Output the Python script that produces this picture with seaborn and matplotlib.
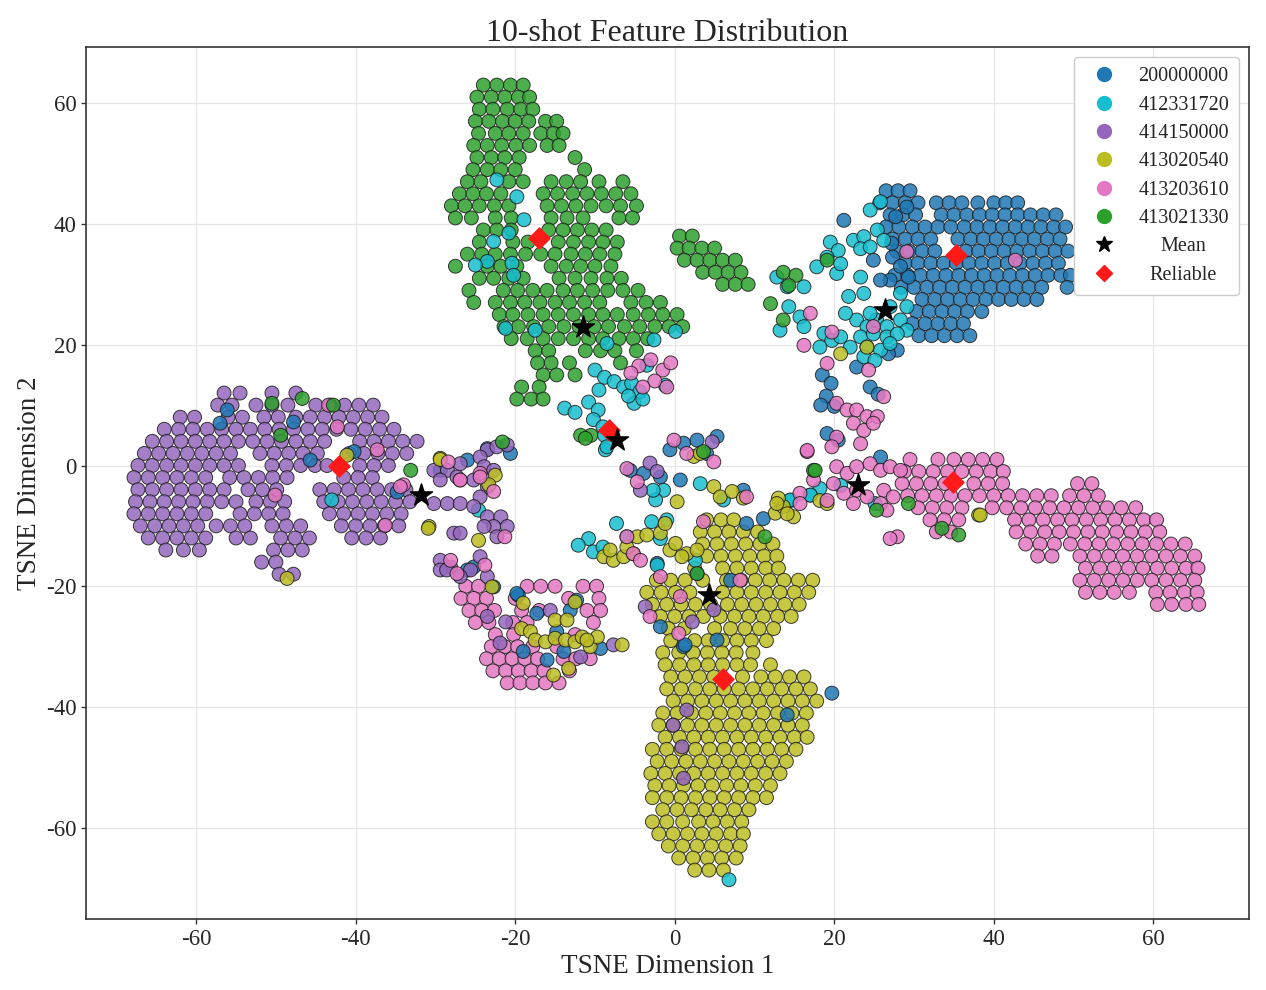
import numpy as np
import pandas as pd
import matplotlib
matplotlib.use('Agg')
import matplotlib.pyplot as plt
import seaborn as sns
from matplotlib.lines import Line2D

# ── DATA (t-SNE coordinates) ────────────────────────────────────────────────
CLASSES = ["200000000", "412331720", "414150000", "413020540", "413203610", "413021330"]
COLORS  = ["#1f77b4", "#17becf", "#9467bd", "#bcbd22", "#e377c2", "#2ca02c"]

# dense parts of each cluster: (y, [x, x, ...])
blue_rows = [
    (45.5, [26.5, 28, 29.5]),
    (43.5, [25.7, 27.3, 28.9, 30.5, 32.8, 34.4, 36, 38, 40, 41.5, 43]),
    (41.5, [27, 28.6, 30.2, 33.4, 35, 36.6, 38.2, 39.8, 41.4, 43, 44.6, 46.2, 47.8]),
    (39.5, [26.5, 28.1, 29.8, 31.4, 33, 34.6, 36.3, 37.9, 39.5, 41.1, 42.7, 44.3, 45.9, 47.5, 49]),
    (37.5, [27.3, 28.9, 30.5, 32.1, 35.5, 37.1, 38.7, 40.3, 41.9, 43.5, 45.1, 46.7, 48.3]),
    (35.5, [27.8, 29.4, 31, 32.6, 36.5, 38.1, 39.7, 41.3, 42.9, 44.5, 46.1, 47.7, 49.3]),
    (33.5, [28.9, 30.5, 32.1, 33.7, 35.3, 36.9, 38.5, 40.1, 41.7, 43.3, 44.9, 46.5, 48.1]),
    (31.5, [27.6, 29.2, 30.8, 32.4, 34, 35.6, 37.2, 38.8, 40.4, 42, 43.6, 45.2, 46.8, 48.4, 49.6]),
    (29.5, [28.4, 30, 31.6, 33.2, 34.8, 36.4, 38, 39.6, 41.2, 42.8, 44.4, 46, 49.2]),
    (27.5, [31, 32.6, 34.2, 35.8, 37.4, 39, 40.6, 42.2, 43.8, 45.4]),
    (25.5, [30.3, 31.9, 33.5, 35.1, 36.7, 38.5]),
    (23.5, [29.8, 31.4, 33, 34.6, 36.2]),
    (21.5, [30.6, 32.2, 33.8, 35.4, 37]),
]
purple_rows = [
    (12, [-56.5, -54.5, -50.5, -47.5]),
    (10, [-57.3, -55.5, -52.5, -50.5, -48.5, -45, -43.2, -41.4, -39.6, -37.8]),
    (8, [-62, -60.2, -56, -54.2, -51.5, -49.7, -47.5, -45.7, -43.9, -42.1, -40.3, -38.5, -36.7]),
    (6, [-64, -62.2, -60.4, -58.6, -56.8, -55, -53.2, -51.4, -49.6, -47.8, -46, -44.2, -42.4, -40.6, -38.8, -37, -35.2]),
    (4, [-65.5, -63.7, -61.9, -60.1, -58.3, -56.5, -54.7, -52.9, -51.1, -49.3, -47.5, -45.7, -43.9, -39.5, -37.7, -35.9, -34.1, -32.3]),
    (2, [-66.5, -64.7, -62.9, -61.1, -59.3, -57.5, -55.7, -52, -50.2, -48.4, -46.6, -44.8, -40.8, -39, -37.2, -35.4, -33.6]),
    (0, [-67.3, -65.5, -63.7, -61.9, -60.1, -58.3, -56.5, -54.7, -50.5, -48.7, -46.9, -45.1, -43.6, -39.5, -37.7, -35.9]),
    (-2, [-67.8, -66, -64.2, -62.4, -60.6, -58.8, -55.8, -54, -52.2, -50.4, -48.6, -41.5, -39.7, -37.9]),
    (-4, [-67.3, -65.5, -63.7, -61.9, -60.1, -58.3, -56.5, -53.5, -51.7, -49.9, -44.5, -42.7, -40.9, -39.1, -37.3, -35.5, -33.7]),
    (-6, [-67.6, -65.8, -64, -62.2, -60.4, -58.6, -56.8, -55, -52.5, -50.7, -48.9, -44, -42.2, -40.4, -38.6, -36.8, -35, -33.2]),
    (-8, [-67.8, -66, -64.2, -62.4, -60.6, -58.8, -54.5, -52.7, -50.9, -49.1, -43.3, -41.5, -39.7, -37.9, -36.1, -34.3]),
    (-10, [-67, -65.2, -63.4, -61.6, -59.8, -57.5, -55.7, -53.9, -50.5, -48.7, -46.9, -41.8, -40, -38.2, -36.4, -34.6]),
    (-12, [-66, -64.2, -62.4, -60.6, -58.8, -55, -53.2, -49.4, -47.6, -45.8, -40.5, -38.7, -36.9]),
    (-14, [-63.8, -61.6, -59.6, -50.3, -48.5, -46.7]),
    (-16, [-51.8, -50]),
    (-18, [-49.6, -47.8]),
]
olive_rows = [
    (-9, [4, 5.8, 7.4]),
    (-11, [3.2, 5, 6.8, 8.6, 10.4]),
    (-13, [3.5, 5.3, 7.1, 8.9, 10.7, 12.3]),
    (-15, [4, 5.8, 7.6, 9.4, 11.2, 12.8]),
    (-17, [2.5, 6, 7.8, 9.6, 11.4, 13]),
    (-19, [-2.3, -0.5, 1.3, 3.5, 6.5, 8.3, 10.1, 11.9, 13.7, 15.5, 17.3]),
    (-21, [-3.5, -1.7, 0.1, 1.9, 6, 7.8, 9.6, 11.4, 13.2, 15, 16.8]),
    (-23, [-2.8, -1, 0.8, 2.6, 4.5, 6.6, 8.4, 10.2, 12, 13.8, 15.6]),
    (-25, [-1.8, 0, 1.8, 3.6, 5.7, 7.5, 9.3, 11.1, 12.9, 14.6]),
    (-27, [-0.8, 1.2, 5, 7, 8.8, 10.6, 12.4]),
    (-29, [-0.5, 2.5, 4.2, 6, 7.8, 9.6, 11.5]),
    (-31, [-1.5, 0.5, 2.3, 4.1, 5.9, 7.7, 9.8]),
    (-33, [-1.2, 0.6, 2.4, 4.2, 6, 7.8, 9.5, 12]),
    (-35, [-0.5, 1.3, 3.1, 4.9, 8.5, 10.8, 12.6, 14.4, 16.2]),
    (-37, [-1, 0.8, 2.6, 4.4, 6.2, 8, 9.8, 11.6, 13.4, 15.2, 17]),
    (-39, [-0.2, 1.6, 3.4, 5.2, 7, 8.8, 10.6, 12.4, 14.2, 16, 17.8]),
    (-41, [-1.5, 0.3, 2.1, 3.9, 5.7, 7.5, 9.3, 11.1, 12.9, 14.7, 16.5]),
    (-43, [-2, -0.2, 1.6, 3.4, 5.2, 7, 8.8, 10.6, 12.4, 14.2, 16]),
    (-45, [-1.2, 0.6, 2.4, 4.2, 6, 7.8, 9.6, 11.4, 13.2, 15, 16.6]),
    (-47, [-2.8, -1, 0.8, 2.6, 4.4, 6.2, 8, 9.8, 11.6, 13.4, 15.2]),
    (-49, [-2.2, -0.4, 1.4, 3.2, 5, 6.8, 8.6, 10.4, 12.2, 14]),
    (-51, [-3, -1.2, 0.6, 2.4, 4.2, 6, 7.8, 9.6, 11.4, 13.2]),
    (-53, [-2.5, -0.7, 1.1, 2.9, 4.7, 6.5, 8.3, 10.1, 12]),
    (-55, [-2.8, -1, 0.8, 2.6, 4.4, 6.2, 8, 9.8, 11.5]),
    (-57, [-1.5, 0.3, 2.1, 3.9, 5.7, 7.5, 9.3]),
    (-59, [-2.8, -1, 1, 3, 4.8, 6.6, 8.4]),
    (-61, [-2, -0.2, 1.6, 3.4, 5.2, 7, 8.6]),
    (-63, [-0.8, 1, 2.8, 4.6, 6.4, 8.2]),
    (-65, [0.5, 2.3, 4.1, 5.9, 7.7]),
    (-67, [2.5, 4.3, 6.1]),
]
pink_rows = [
    (1, [29.5, 33, 35, 36.8, 38.6, 40.4]),
    (-1, [28.8, 30.6, 32.4, 34.2, 36, 37.8, 39.6, 41.2]),
    (-3, [28.5, 30.3, 32.1, 33.9, 37.5, 39.3, 41.1, 50.5, 52.3]),
    (-5, [29.2, 31, 32.8, 34.6, 36.4, 38.2, 40, 41.8, 43.6, 45.4, 47.2, 49.5, 51.3, 53.1]),
    (-7, [30.5, 32.3, 34.1, 36, 39.8, 41.6, 43.4, 45.2, 47, 48.8, 50.6, 52.4, 54.2, 56, 57.8]),
    (-9, [32, 33.8, 35.6, 42.6, 44.4, 46.2, 48, 49.8, 51.6, 53.4, 55.2, 57, 58.8, 60.4]),
    (-11, [32.8, 34.6, 42.8, 44.6, 46.4, 48.2, 50, 51.8, 53.6, 55.4, 57.2, 59, 60.8]),
    (-13, [44, 45.8, 47.6, 49.6, 51.4, 53.2, 55, 56.8, 58.6, 60.4, 62.2, 64]),
    (-15, [45.5, 47.3, 50.8, 52.6, 54.4, 56.2, 58, 59.8, 61.6, 63.4, 65.2]),
    (-17, [51.5, 53.3, 55.1, 56.9, 58.7, 60.5, 62.3, 64.1, 65.6]),
    (-19, [50.8, 52.6, 54.4, 56.2, 58, 59.8, 61.6, 63.4, 65.2]),
    (-21, [51.5, 53.3, 55.1, 57, 60.3, 62.1, 63.9, 65.5]),
    (-23, [60.5, 62.3, 64.1, 65.7]),
    # lower-left pink group
    (-20, [-26.2, -24.6, -18.5, -16.8, -15, -11.5, -9.8]),
    (-22, [-26.8, -25.2, -23.6, -20, -13.3, -9.5]),
    (-24, [-25.8, -24.2, -22.6, -19.2, -17, -11, -9.3]),
    (-26, [-25, -23.3, -20.3, -18.5, -10.2]),
    (-28, [-22.5, -20.2, -12.5]),
    (-30, [-23, -21.3, -19.7, -17.8, -14.8]),
    (-32, [-23.6, -22, -20.4, -18.8, -17.2, -14, -12.4, -10.6]),
    (-34, [-22.8, -21.2, -19.6, -18, -16.4, -13.2]),
    (-36, [-21, -19.4, -17.8, -16.2, -14.5]),
]
green_rows = [
    (63, [-24, -22.3, -20.6, -19]),
    (61, [-24.8, -23, -21.3, -19.6, -18.2]),
    (59, [-24.5, -22.8, -21, -19.3, -17.8]),
    (57, [-25, -23.3, -21.6, -20, -18.3, -16.2, -14.8]),
    (55, [-24.6, -22.5, -20.8, -19, -16.8, -15.2, -14]),
    (53, [-25.2, -23.5, -21.7, -19.9, -18.2, -16, -14.5]),
    (51, [-24.8, -23, -21.3, -19.5, -12.5]),
    (49, [-25.3, -23.5, -21.8, -20, -11.3]),
    (47, [-26, -24.3, -20.8, -19, -15.5, -13.6, -11.8, -9.5, -6.5]),
    (45, [-27, -25.3, -23.6, -21.8, -16.5, -14.7, -12.8, -11, -9.2, -7.4, -5.5]),
    (43, [-28, -26.3, -24.5, -22.6, -20.8, -16, -14.2, -12.4, -10.5, -8.6, -6.8, -4.8]),
    (41, [-27.5, -25.5, -22.5, -20.5, -15.5, -13.5, -11.5, -7, -5.3]),
    (39, [-24, -22.3, -20.5, -15.8, -14, -12.2, -10.4, -8.6]),
    (37, [-24.5, -20.3, -18.4, -14.6, -12.7, -10.8, -9, -7.2]),
    (35, [-26, -24.2, -22.5, -20.6, -18.7, -16.8, -15, -13, -11.2, -9.4, -7.5]),
    (33, [-27.5, -23.5, -21.8, -19.8, -15.5, -13.6, -11.8, -10, -8]),
    (31, [-24.5, -22.7, -20.8, -19, -14.5, -12.5, -10.5, -8.5, -6.7]),
    (29, [-25.8, -21.5, -19.7, -17.8, -16, -14, -12.2, -10.3, -8.4, -6.5, -4.6]),
    (27, [-25.2, -22.5, -20.6, -18.8, -16.9, -15, -13.2, -11.3, -9.4, -5.5, -3.6, -1.8]),
    (25, [-22, -20.3, -18.4, -16.5, -14.6, -12.7, -10.8, -9, -7.2, -5.2, -3.3, -1.5, 0.3]),
    (23, [-21.4, -19.6, -17.7, -15.8, -13.9, -12, -10.1, -8.3, -6.3, -4.4, -2.5, -0.7, 1]),
    (21, [-20.5, -18.5, -16.5, -14.6, -12.7, -10.8, -9, -7, -5.2, -3.4]),
    (19, [-17.5, -15.8, -11.2, -9.3, -7.5, -4.8]),
    (17, [-17.2, -15.5, -13.2, -6.8]),
    (15, [-16.5, -14.8, -12.5]),
    (13, [-17, -19.2]),
    (11, [-19.8, -18, -16.5]),
    (5, [-10.5, -11.8]),
    # small group right of the main green cluster
    (38, [0.6, 2.2]),
    (36, [0.3, 1.8, 3.4, 5]),
    (34, [1.2, 2.8, 4.4, 6, 7.6]),
    (32, [3.5, 5.1, 6.7, 8.3]),
    (30, [6, 7.6, 9.2]),
]
cyan_rows = []

# scattered points of each class: (x, y)
blue_extra = [
    (21.2, 40.6), (27.2, 36.8), (24.9, 34), (27.7, 41.2), (29.1, 42.8), (29.3, 31.2), (27, 30.7),
    (25.8, 30.7), (27.9, 19.1), (26.8, 18.5), (22.8, 16.3), (27.3, 34.5), (28.3, 33), (18.5, 15),
    (19.6, 13.6), (19, 11.5), (20, 9.8), (18.3, 10), (24.5, 13), (25.5, 11.8), (19.1, 5.3),
    (20.5, 4.2), (25.8, 1.4), (11.1, -8.8),
    (-0.6, 2.6), (1.1, 3.7), (2.8, 4.2), (5.3, 4.8), (4, 2), (-3.9, -1.3), (-1.8, -1.9), (0.7, -2.4),
    (-5.6, -0.8), (8.6, -4.1), (9, -9.6), (-2.2, -16.2), (-1.8, -26.7), (1.1, -30), (5.3, -28.9),
    (2.8, -17.9), (7, -19),
    (-25.2, -16.8), (-22.7, -20.1), (-19.6, -21.5), (-17.3, -24.5), (-13.1, -24), (-12.3, -22.3),
    (-14.8, -27.5), (-19, -30.8), (-16, -32.2), (-13.9, -30.8), (-9.3, -30.3),
    (-56.1, 9.2), (-57, 7), (-47.8, 7.2), (-45.7, 0.9), (-40.2, 2.3), (-34.8, -4.4), (-26, 0.9),
    (-23.5, 2.8), (-20.6, 2), (-29.4, -0.8), (-26, -17.3), (-19.8, -21.2),
    (1.3, -29.7), (19.7, -37.7), (14.1, -41.3),
]
cyan_extra = [
    (-22.3, 47.3), (-19.8, 44.5), (-18.9, 40.7), (-20.8, 38.5), (-22.7, 37.1), (-23.5, 33.8),
    (-25, 33.2), (-20.4, 33.5), (-20.2, 31.5), (-21.2, 22.7), (-17.5, 22.4), (-8.5, 20.2),
    (-2.6, 20.8), (0.1, 22.2), (-3.5, 16.6), (-10, 15.8), (-8.8, 14.6), (-7.6, 13.9), (-6.4, 13),
    (-5.4, 13.6), (-4.4, 12.2), (-5.1, 10.3), (-4, 11), (-1.2, 13.3), (-13.8, 9.5), (-12.5, 8.8),
    (-10.8, 10.5), (-9.6, 9.2), (-10.2, 7.6), (-9, 6.4), (-8.8, 5), (-8.7, 2.6), (-5.8, 11.5),
    (-9.5, 12.5),
    (24.5, 42.3), (25.8, 43.7), (19.5, 37), (20.5, 35.6), (19.1, 34.5), (22.4, 37.3), (23.7, 37.9),
    (23.3, 35.9), (24.5, 36.2), (25.4, 39), (26.2, 37.3), (12.8, 31.2), (14.1, 29.6), (16.2, 29.6),
    (17.8, 32.9), (20.3, 31.8), (20.8, 33.4), (14.3, 26.3), (15.7, 24.6), (13.2, 22.4), (16.2, 23),
    (18.7, 21.9), (19.7, 20.7), (18.2, 19.6), (20.8, 21.3), (23.3, 31.2), (23.7, 28.5), (28.3, 28.5),
    (29.1, 26.3), (27, 26.3), (22.8, 24.1), (24.1, 23), (25.3, 24.1), (26.6, 23), (28.3, 24.1),
    (29.1, 22.4), (23.3, 21.3), (24.9, 21.8), (26.6, 21.3), (27.9, 21.8), (22, 19.6), (24.1, 19.6),
    (25.8, 19.1), (23.7, 18), (25.1, 17.4), (21.4, 25.2), (24.5, 25.2), (27, 20.2), (21.8, 28),
    (18.2, -3.8), (17, -4.9), (20.8, -3.3), (25.1, -6.3), (14.5, -5.8),
    (-8.5, 3.1), (-1.4, -4.1), (-2.4, -5.7), (3.2, -3), (6.1, -5.7), (-7.3, -9.6), (-6, -11.8),
    (-10.8, -12.1), (-12.1, -13.2), (-10.2, -14.3), (-9, -13.5), (-2.9, -9.3), (-1, -9),
    (-1.8, -12.1), (2.6, -15.7), (-2.2, -16.5), (17, -4.9), (14.5, -5.7), (-2.7, -4.1),
    (-43, -5.7), (-24.6, -7.4), (6.8, -68.6),
]
purple_extra = [
    (-23.5, 2.6), (-22.3, 3.1), (-21, 3.4), (-24.4, 1.4), (-30.2, -0.8), (-28.5, -0.8),
    (-27.3, -1.9), (-29.4, -2.4), (-26.9, 0.3), (-25.2, -2.4), (-23.9, -0.2), (-22.7, -0.8),
    (-23.5, -3.5), (-24.4, -5.2), (-30.2, -6.3), (-28.5, -6.3), (-26.9, -6.3), (-25.2, -6.8),
    (-23.5, -8.5), (-21.8, -8.5), (-21, -10.1), (-22.7, -10.1), (-23.9, -10.1), (-27.7, -11.2),
    (-26.9, -11.2), (-22.3, -11.8),
    (-29.4, -15.7), (-28.1, -16.8), (-29.4, -17.3), (-25.6, -17.3), (-24.4, -15.1), (-23.5, -18.4),
    (-26.9, -18.4), (-28.6, -17.3), (-23.5, -25), (-21.2, -25.9), (-15.6, -24), (-11.8, -31.7),
    (-21.9, -29.4), (-7.7, -29.7),
    (-3.1, 0.4), (-2.2, -1), (4.7, 3.9), (-4.3, -4.1), (4.9, -23.9), (2.2, -25.9), (-3.7, -23.4),
    (1.5, -40.5), (-0.2, -43), (0.9, -46.6), (1.1, -51.8),
]
olive_extra = [
    (-8.9, -15.1), (-7.7, -15.7), (-6.4, -15.1), (-5.2, -14.6), (-8.1, -14), (-6, -13.5),
    (-4.7, -11.8), (-3.5, -11.5), (0.3, -6), (-0.6, -14), (1.5, -14.6), (2.8, -14), (4.9, -3.5),
    (5.7, -5.2), (7.2, -4.3), (2.4, 1.5), (3.2, 2), (8.6, -5.4), (-1.8, -11.2), (-1.2, -9.6),
    (0.1, -12.9), (0.9, -15.1), (12.6, -7.9), (13.6, -6.8), (14.9, -8.5), (13, -5.4),
    (12.8, -6.3), (14.1, -8), (18.2, -5.8), (19.1, -6.3), (24.1, 19.6), (20.8, 18.5), (38.1, -8.2),
    (38.3, -8.2),
    (-41.1, 1.7), (-29.4, 1.2), (-22.5, -1.6), (-23.3, -3.2), (-30.8, -10.1), (-24.6, -12.4),
    (-48.6, -18.7), (-22.9, -20.1), (-29.4, 1), (-30.9, -10.4),
    (-19, -22.8), (-12.5, -22.6), (-15, -25.6), (-13.5, -25.6), (-19.2, -27), (-18.1, -27.5),
    (-17.5, -28.9), (-16.2, -29.2), (-15, -28.6), (-13.7, -28.9), (-12.5, -29.2), (-11.6, -28.4),
    (-10.6, -30), (-9.7, -28.4), (-13.3, -33.6), (-15.2, -34.7), (-6.6, -29.7), (-11, -28.9),
]
pink_extra = [
    (29.1, 35.4), (42.7, 34), (24.9, 23), (19.7, 22.1), (16.2, 19.9), (17, 25.2), (24.3, 15.8),
    (19.1, 16.9), (26.2, 11.4), (20.3, 10.3), (21.6, 9.2), (22.8, 9.2), (24.1, 8.1), (25.4, 8.1),
    (22.4, 7), (23.7, 5.8), (24.9, 7), (20.3, 4.7), (19.7, 3.1), (16.6, 2.3), (23.3, 3.6),
    (20.3, -0.2), (21.6, -1.3), (22.8, -0.2), (24.5, 0.3), (25.8, -0.8), (27, -0.2), (28.3, -0.8),
    (19.9, -3), (21.2, -4.6), (22.8, -4.1), (24.1, -5.2), (26.2, -4.1), (27.4, -5.2), (25.8, -6.3),
    (22.4, -6.3), (26.6, -7.4), (17.4, -2.4), (15.7, -4.6), (27.9, -11.8), (27, -12.1), (19.1, -5.8),
    (-28.1, -15.7), (-27.3, -17.9), (-23.8, -16.5), (-24.4, -1.3), (-22.7, -4.3), (-26.9, -2.4),
    (-21.3, -11.8), (-34, -3.2), (-28.4, 0.6),
    (-43.4, 10), (-42.3, 6.4), (-37.3, 2.6), (-50.1, -4.9), (-34.4, -3.5), (-36.3, -9.9),
    (-24.4, -1.9), (-26.9, -2.4),
    (-6, -0.5), (-4.7, -2.7), (-0.1, 4.2), (1.5, 2), (4.9, 0.6), (3.6, -9.3), (-5.2, -14.6),
    (-4.3, -15.7), (-1.8, -18.4), (8.2, -19), (9, -5.2), (16.6, 2.5), (15.7, -6.3), (0.7, -21.7),
    (-3.1, -25), (0.5, -27.8), (-6, -11.8),
    (-4.5, 16.5), (-3, 17.5), (-1.5, 15.8), (-2.5, 14), (-4, 13), (-0.5, 17), (-5.5, 15.3), (-1, 13),
]
green_extra = [
    (13.6, 32), (15.2, 31.5), (14.3, 29.8), (12, 26.8), (13.6, 24.1), (19.1, 34), (17.4, -0.8),
    (25.3, -7.4), (29.3, -6.3), (33.5, -10.4), (35.6, -11.5),
    (-50.5, 10.3), (-46.7, 11.1), (-42.8, 10), (-49.4, 5), (-21.6, 3.9), (-33.1, -0.8),
    (-11.2, 4.5), (3.6, 2.3), (11.3, -11.8), (2.8, -17.9), (17.6, -0.8),
]

mean_x = [-11.5, -7.2, -31.8, 4.3, 23.0, 26.3]
mean_y = [22.9, 4.2, -4.9, -21.4, -3.2, 25.7]
reliable_x = [-17.0, -8.3, -42.1, 6.0, 34.9, 35.2]
reliable_y = [37.7, 5.9, -0.1, -35.3, -2.7, 34.9]

# ── BUILD TABLE ──────────────────────────────────────────────────────────────
rows_by_class  = [blue_rows, cyan_rows, purple_rows, olive_rows, pink_rows, green_rows]
extra_by_class = [blue_extra, cyan_extra, purple_extra, olive_extra, pink_extra, green_extra]

records = []
for cls, rows in zip(CLASSES, rows_by_class):
    for yv, xs in rows:
        for xv in xs:
            records.append((xv, yv, cls))
# scattered points drawn after the dense parts so they stay visible
for cls, pts in zip(CLASSES, extra_by_class):
    for xv, yv in pts:
        records.append((xv, yv, cls))
df = pd.DataFrame(records, columns=["x", "y", "label"])

# ── PLOT ─────────────────────────────────────────────────────────────────────
sns.set_style("whitegrid")
plt.rcParams['font.family'] = ['Liberation Serif', 'DejaVu Serif']
plt.rcParams['axes.unicode_minus'] = False

fig = plt.figure(figsize=(12.66, 9.9), dpi=100)
ax = fig.add_axes([0.068, 0.0717, 0.9186, 0.8808])

palette = dict(zip(CLASSES, COLORS))
sns.scatterplot(data=df, x="x", y="y", hue="label", hue_order=CLASSES, palette=palette,
                s=100, alpha=0.85, edgecolor="#1a1a1a", linewidth=0.7, legend=False, ax=ax)
ax.scatter(mean_x, mean_y, marker="*", s=280, c="black", zorder=5)
ax.scatter(reliable_x, reliable_y, marker="D", s=115, c="#ff1a1a", zorder=4)

ax.set_xlim(-73.8, 72.0)
ax.set_ylim(-75.1, 69.3)
ax.set_xticks([-60, -40, -20, 0, 20, 40, 60])
ax.set_yticks([-60, -40, -20, 0, 20, 40, 60])
ax.tick_params(labelsize=16.5, length=3.5, width=1, color="#333333", bottom=True, left=True)
ax.grid(True, color="#e6e6e6", linewidth=0.9)
for sp in ax.spines.values():
    sp.set_color("#333333")
    sp.set_linewidth(1.2)

ax.set_title("10-shot Feature Distribution", fontsize=23, pad=4)
ax.set_xlabel("TSNE Dimension 1", fontsize=19.5, labelpad=3)
ax.set_ylabel("TSNE Dimension 2", fontsize=19.5, labelpad=3)

handles = [Line2D([], [], marker="o", ls="", color=c, markersize=10) for c in COLORS]
handles.append(Line2D([], [], marker="*", ls="", color="black", markersize=12))
handles.append(Line2D([], [], marker="D", ls="", color="#ff1a1a", markersize=8))
leg = ax.legend(handles, CLASSES + ["Mean", "Reliable"], loc="upper right", fontsize=14.5,
                frameon=True, framealpha=1, edgecolor="#cccccc", handletextpad=0.7,
                labelspacing=0.46, borderpad=0.5)

# centre the two shorter labels under the class ids
fig.canvas.draw()
r = fig.canvas.get_renderer()
widths = [t.get_window_extent(r).width for t in leg.get_texts()]
wmax = max(widths)
for t, w in zip(leg.get_texts(), widths):
    t.set_x((wmax - w) / 2)

plt.savefig("out.png", dpi=100)
plt.close()
